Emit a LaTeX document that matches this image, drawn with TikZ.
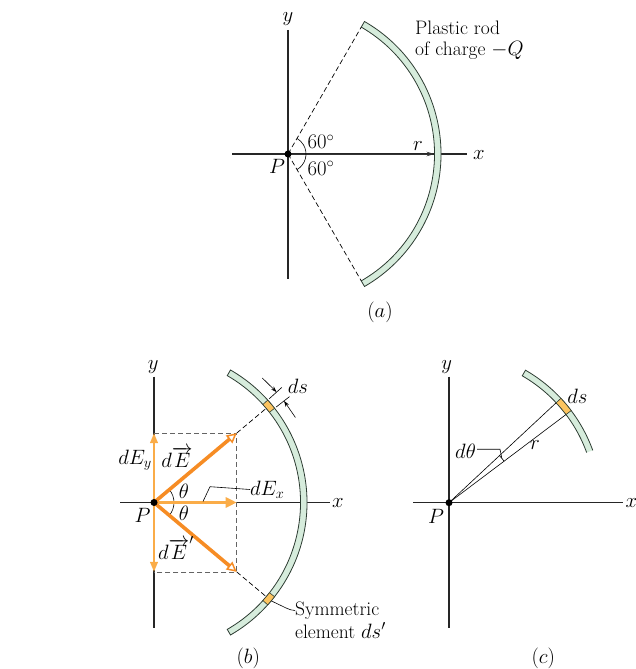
\documentclass[tikz,border=0pt]{standalone}
\usetikzlibrary{arrows.meta,calc}
\definecolor{rodfill}{RGB}{214,236,220}
\definecolor{rodline}{RGB}{45,60,50}
\definecolor{elemfill}{RGB}{252,196,96}
\definecolor{darkor}{RGB}{246,140,36}
\definecolor{lightor}{RGB}{250,172,72}
\definecolor{dashgray}{RGB}{100,100,100}
\begin{document}
\begin{tikzpicture}[x=1pt,y=1pt,
  every node/.style={font=\fontsize{19.5}{23}\selectfont, inner sep=0pt},
  axis/.style={line width=1.2pt, draw=black!85},
  rodstyle/.style={fill=rodfill, draw=rodline, line width=0.8pt},
  elemstyle/.style={fill=elemfill, draw=rodline, line width=0.6pt},
  dashline/.style={dash pattern=on 5pt off 3pt, line width=0.7pt},
  thinline/.style={line width=0.6pt},
  dimarrow/.style={line width=0.6pt, -{Stealth[length=6pt,width=4pt]}}]
\useasboundingbox (0,0) rectangle (636,669);

% ================= (a) =================
\coordinate (Pa) at (288,515);
\coordinate (axaL) at (232,515);
\coordinate (axaR) at (467,515);
\coordinate (axaT) at (288,639);
\coordinate (axaB) at (288,390);
\node (xa) at (479,514) {$x$};
\node (ya) at (288,650) {$y$};
\draw[axis] (axaL) -- (axaR);
\draw[axis] (axaT) -- (axaB);
\path[rodstyle] ($(Pa)+(-60:146.5)$) arc[start angle=-60,end angle=60,radius=146.5]
  -- ($(Pa)+(60:153)$) arc[start angle=60,end angle=-60,radius=153] -- cycle;
\coordinate (RaT) at ($(Pa)+(60:146.5)$);
\coordinate (RaB) at ($(Pa)+(-60:146.5)$);
\coordinate (RaM) at ($(Pa)+(0:146.5)$);
\draw[dashline] (Pa) -- (RaT);
\draw[dashline] (Pa) -- (RaB);
\draw[line width=0.7pt, draw=black!80, -{Stealth[length=8pt,width=4.5pt]}] (Pa) -- (RaM);
\draw[thinline] ($(Pa)+(-60:18)$) arc[start angle=-60,end angle=60,radius=18];
\fill (Pa) circle (3.5);
\node (a60u) at (321,527.3) {$60^\circ$};
\node (a60d) at (321,500.7) {$60^\circ$};
\node (aP) at (277,502.3) {$P$};
\node (ar) at (418,523) {$r$};
\node[anchor=base west] (rodtxt1) at (415,634) {Plastic rod};
\node[anchor=base west] (rodtxt2) at (415,613) {of charge $-Q$};
\node (capa) at (380,357) {$(a)$};

% ================= (b) =================
\coordinate (Pb) at (154,166.5);
\coordinate (axbL) at (120,166.5);
\coordinate (axbR) at (330,166.5);
\coordinate (axbT) at (154,292.3);
\coordinate (axbB) at (154,41);
\node (xb) at (338,165.5) {$x$};
\node (yb) at (153.3,301.5) {$y$};
\coordinate (Eb) at ($(Pb)+(40:108)$);
\coordinate (Ebp) at ($(Pb)+(-40:108)$);
\coordinate (Ty) at (Pb |- Eb);
\coordinate (By) at (Pb |- Ebp);
\coordinate (Tx) at (Eb |- Pb);
\draw[axis] (axbL) -- (axbR);
\draw[axis] (axbT) -- (axbB);
\path[rodstyle] ($(Pb)+(-60:146.5)$) arc[start angle=-60,end angle=60,radius=146.5]
  -- ($(Pb)+(60:153)$) arc[start angle=60,end angle=-60,radius=153] -- cycle;
\path[elemstyle] ($(Pb)+(38:146.5)$) arc[start angle=38,end angle=42,radius=146.5]
  -- ($(Pb)+(42:153)$) arc[start angle=42,end angle=38,radius=153] -- cycle;
\path[elemstyle] ($(Pb)+(-42:146.5)$) arc[start angle=-42,end angle=-38,radius=146.5]
  -- ($(Pb)+(-38:153)$) arc[start angle=-38,end angle=-42,radius=153] -- cycle;
% dashed construction
\draw[dashline, dashgray] (Ty) -- (Eb) -- (Ebp) -- (By);
\coordinate (RbU) at ($(Pb)+(40:146.5)$);
\coordinate (RbD) at ($(Pb)+(-40:146.5)$);
\draw[dashline] (Eb) -- (RbU);
\draw[dashline] (Ebp) -- (RbD);
% ds dimension marks
\draw[thinline] ($(Pb)+(42:155)$) -- ($(Pb)+(42:172)$);
\draw[thinline] ($(Pb)+(38:155)$) -- ($(Pb)+(38:172)$);
\draw[dimarrow] ($(Pb)+(49:165)$) -- ($(Pb)+(42:165)$);
\draw[dimarrow] ($(Pb)+(31:165)$) -- ($(Pb)+(38:165)$);
\node (dsb) at (298,282.3) {$ds$};
% theta arcs
\draw[thinline] ($(Pb)+(0:20)$) arc[start angle=0,end angle=40,radius=20];
\draw[thinline] ($(Pb)+(-40:20)$) arc[start angle=-40,end angle=0,radius=20];
% orange vectors
\draw[lightor, line width=2.2pt, -{Triangle[length=10pt,width=7.5pt]}] (Pb) -- (Ty);
\draw[lightor, line width=2.2pt, -{Triangle[length=10pt,width=7.5pt]}] (Pb) -- (By);
\draw[lightor, line width=3.6pt, -{Triangle[length=11pt,width=10pt]}] (Pb) -- (Tx);
\draw[darkor, line width=3.6pt, -{Triangle[length=10pt,width=10pt,fill=white,line width=1.5pt]}] (Pb) -- (Eb);
\draw[darkor, line width=3.6pt, -{Triangle[length=10pt,width=10pt,fill=white,line width=1.5pt]}] (Pb) -- (Ebp);
\fill (Pb) circle (3.5);
% labels
\node (thu) at (184,177.3) {$\theta$};
\node (thd) at (184,155.7) {$\theta$};
\node (dEy) at (135,209) {$dE_y$};
\node (dE) at (177,212) {$d\overrightarrow{E}$};
\node (dEp) at (176,121) {$d\overrightarrow{E}'$};
\node (bP) at (142.5,154) {$P$};
\node[anchor=west] (dEx) at (250,179.5) {$dE_x$};
\coordinate (lxA) at (203,167.5);
\coordinate (lxB) at (210,182.3);
\draw[thinline] (lxA) -- (lxB) -- (dEx.west);
\coordinate (symA) at ($(Pb)+(-40:153)$);
\coordinate (symB) at (286.7,60.7);
\node[anchor=west] (sym1) at (295,58.5) {Symmetric};
\node[anchor=west] (sym2) at (295,38.5) {element $ds'$};
\draw[thinline] (symA) -- (symB) to[out=-20,in=180] (sym1.west);
\node (capb) at (248.3,10.7) {$(b)$};

% ================= (c) =================
\coordinate (Pc) at (449,166.3);
\coordinate (axcL) at (413,166.3);
\coordinate (axcR) at (622.7,166.3);
\coordinate (axcT) at (449,292.3);
\coordinate (axcB) at (449,41);
\node (xc) at (631.5,165.5) {$x$};
\node (yc) at (446.7,301.5) {$y$};
\draw[axis] (axcL) -- (axcR);
\draw[axis] (axcT) -- (axcB);
\fill[rodfill] ($(Pc)+(20:146.5)$) arc[start angle=20,end angle=60,radius=146.5]
  -- ($(Pc)+(60:153)$) arc[start angle=60,end angle=20,radius=153] -- cycle;
\draw[rodline, line width=0.8pt] ($(Pc)+(20:146.5)$) arc[start angle=20,end angle=60,radius=146.5]
  -- ($(Pc)+(60:153)$) arc[start angle=60,end angle=20,radius=153];
\path[elemstyle] ($(Pc)+(37:146.5)$) arc[start angle=37,end angle=43,radius=146.5]
  -- ($(Pc)+(43:153)$) arc[start angle=43,end angle=37,radius=153] -- cycle;
\coordinate (RcU) at ($(Pc)+(43:146.5)$);
\coordinate (RcD) at ($(Pc)+(37:146.5)$);
\draw[thinline] (Pc) -- (RcU);
\draw[thinline] (Pc) -- (RcD);
\draw[thinline] ($(Pc)+(37:69)$) arc[start angle=37,end angle=43,radius=69];
\fill (Pc) circle (3.5);
\node (dsc) at (577.5,272.3) {$ds$};
\node (rc) at (535,224) {$r$};
\node[anchor=east] (dth) at (476,218) {$d\theta$};
\coordinate (ltA) at (500,219.7);
\coordinate (ltB) at ($(Pc)+(40:69)$);
\draw[thinline] (dth.east) ++(1,1.7) -- (ltA) -- (ltB);
\node (cP) at (436,153) {$P$};
\node (capc) at (543.3,10.7) {$(c)$};
\end{tikzpicture}
\end{document}
